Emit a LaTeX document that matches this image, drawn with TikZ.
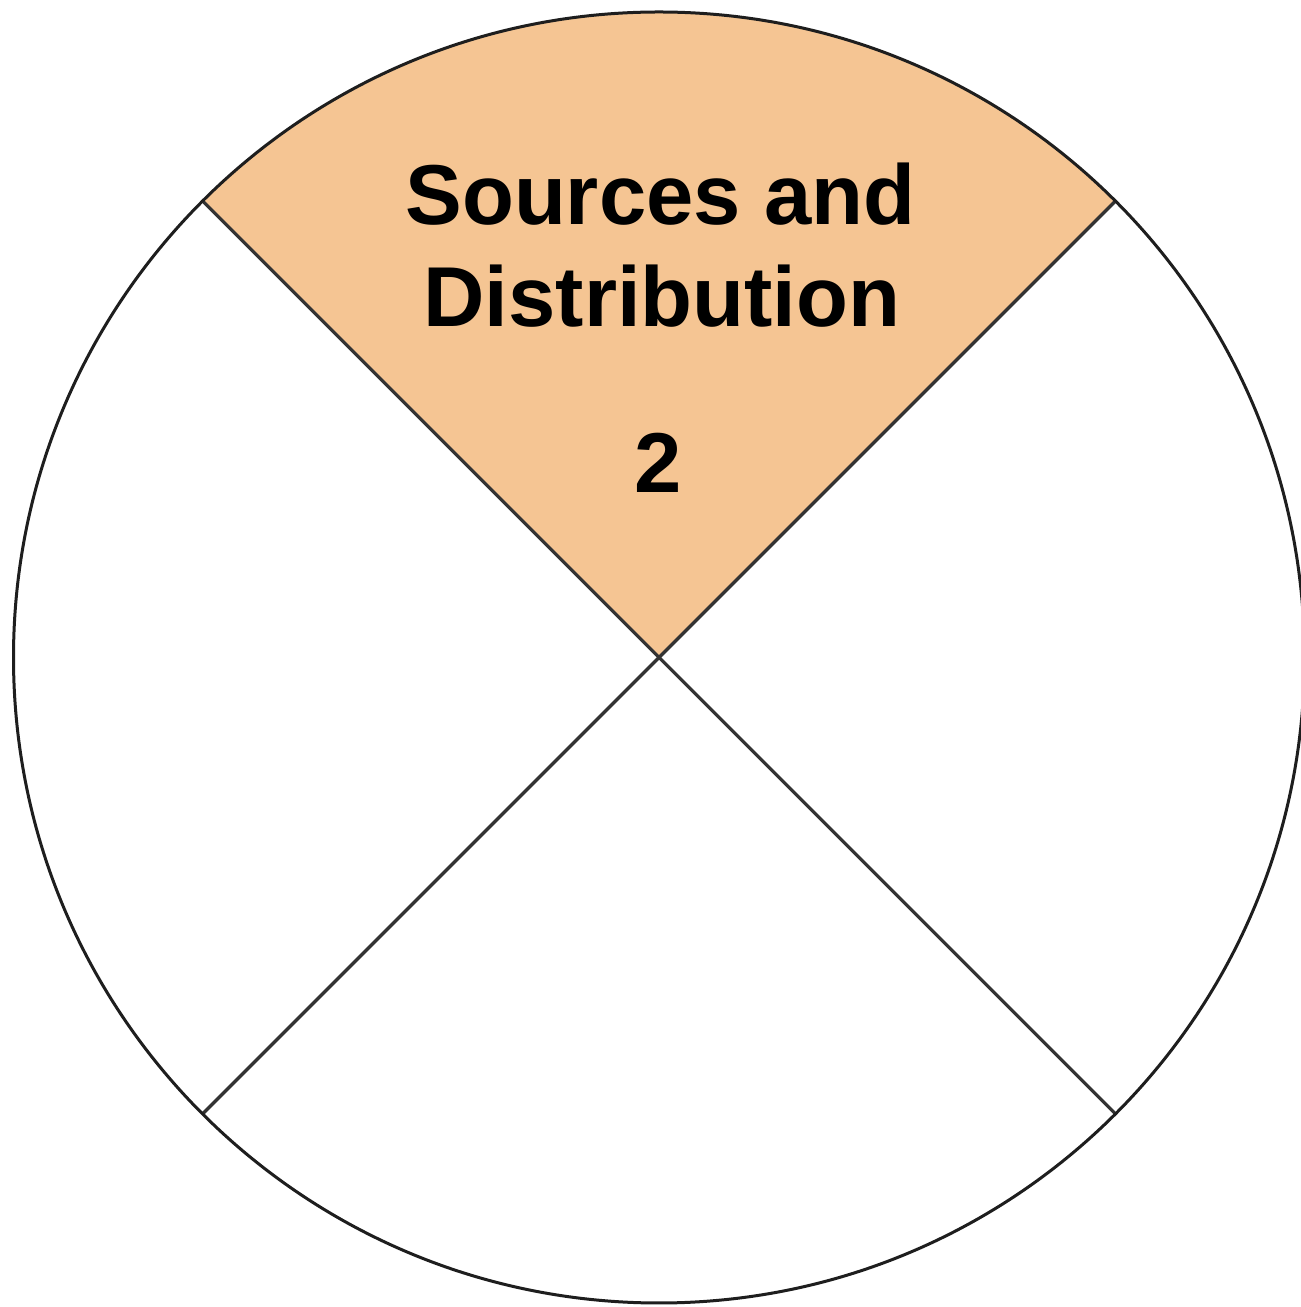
\documentclass[tikz,border=0pt]{standalone}
\usepackage{fontspec}
\setmainfont{Liberation Sans}
\usetikzlibrary{calc}
\definecolor{sectorfill}{HTML}{F5C593}
\definecolor{rimline}{HTML}{1E1E1E}
\definecolor{spokeline}{HTML}{333333}
\begin{document}
\begin{tikzpicture}[x=1pt,y=1pt,
  rim/.style={draw=rimline,line width=3pt},
  spoke/.style={draw=spokeline,line width=3.2pt},
  label/.style={font=\fontsize{85}{85}\selectfont\bfseries,anchor=base,inner sep=0pt}]
  \useasboundingbox (0,0) rectangle (1301,1307);
  \fill[white] (0,0) rectangle (1301,1307);
  % centre of the wheel and the ends of its two diameters
  \coordinate (c) at (659,649.5);
  \coordinate (ne) at ($(c)+(45:645.5)$);
  \coordinate (nw) at ($(c)+(135:645.5)$);
  \coordinate (sw) at ($(c)+(225:645.5)$);
  \coordinate (se) at ($(c)+(315:645.5)$);
  % highlighted top quarter
  \fill[sectorfill] (c) -- (ne) arc[start angle=45,end angle=135,radius=645.5] -- cycle;
  % spokes and rim
  \draw[spoke] (nw) -- (c) -- (se);
  \draw[spoke] (ne) -- (c) -- (sw);
  \draw[rim] (c) circle[radius=645.5];
  % labels
  \node[label] (t1) at (660.5,1082) {Sources and};
  \node[label] (t2) at (662,980) {Distribution};
  \node[label] (t3) at (658,814) {2};
\end{tikzpicture}
\end{document}
